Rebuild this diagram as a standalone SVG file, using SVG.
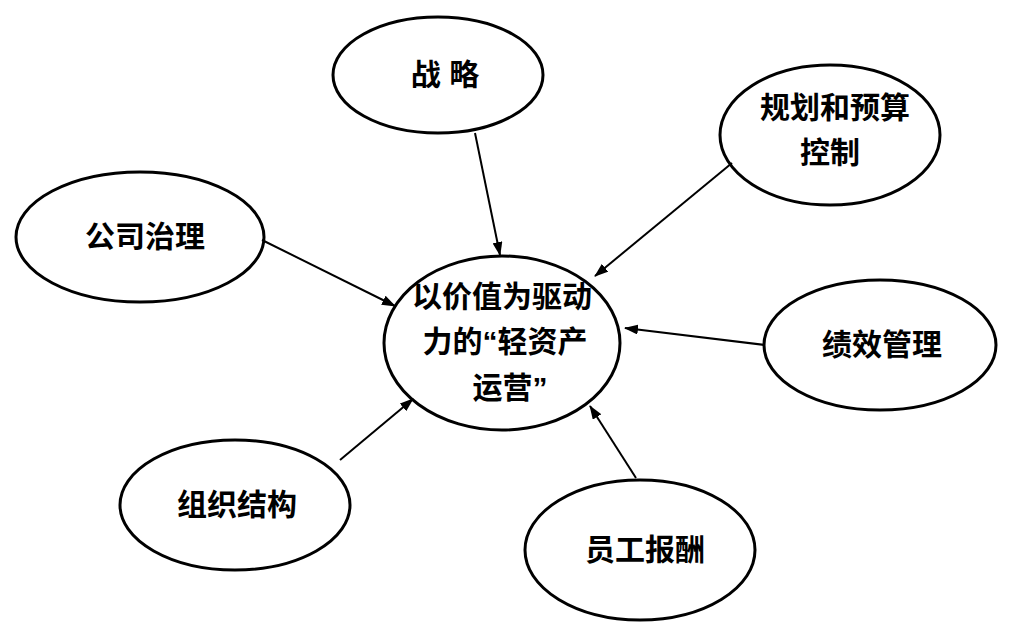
<svg xmlns="http://www.w3.org/2000/svg" width="1024" height="640" viewBox="0 0 1024 640">
<style>
.n ellipse{fill:#fff;stroke:#000;stroke-width:3}
.n text{font-family:"Liberation Sans","Noto Sans CJK SC",sans-serif;font-size:30px;font-weight:bold;text-anchor:middle;fill:#000}
.c line{stroke:#000;stroke-width:2;marker-end:url(#a)}
</style>
<defs><marker id="a" markerWidth="14" markerHeight="10" refX="13" refY="5" orient="auto" markerUnits="userSpaceOnUse"><path d="M0,0 L14,5 L0,10 Z" fill="#000"/></marker></defs>
<rect width="1024" height="640" fill="#fff"/>
<g class="n" id="zl"><ellipse cx="438" cy="75" rx="105" ry="58"/><text x="445" y="85">战 略</text></g>
<g class="n" id="gh"><ellipse cx="830" cy="135" rx="110" ry="70"/><text x="835" y="118">规划和预算</text><text x="830" y="163">控制</text></g>
<g class="n" id="gs"><ellipse cx="140" cy="237" rx="124" ry="65"/><text x="145" y="247">公司治理</text></g>
<g class="n" id="zx"><ellipse cx="502" cy="343" rx="118" ry="87"/><text x="502" y="307">以价值为驱动</text><text x="505" y="352">力的“轻资产</text><text x="510" y="398">运营”</text></g>
<g class="n" id="jx"><ellipse cx="880" cy="345" rx="116" ry="65"/><text x="882" y="355">绩效管理</text></g>
<g class="n" id="zz"><ellipse cx="235" cy="505" rx="115" ry="65"/><text x="237" y="515">组织结构</text></g>
<g class="n" id="yg"><ellipse cx="640" cy="550" rx="115" ry="70"/><text x="645" y="560">员工报酬</text></g>
<g class="c">
<line x1="475" y1="133" x2="500" y2="255"/>
<line x1="732" y1="163" x2="595" y2="276"/>
<line x1="262" y1="240" x2="395" y2="306"/>
<line x1="765" y1="345" x2="625" y2="328"/>
<line x1="340" y1="460" x2="413" y2="399"/>
<line x1="636" y1="478" x2="590" y2="406"/>
</g>
</svg>
